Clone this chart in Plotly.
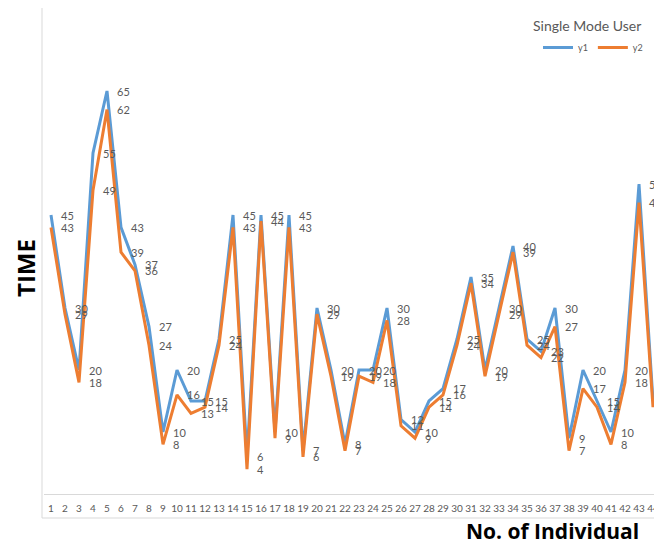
import plotly.graph_objects as go

# Individuals on the horizontal axis and their recorded times for the two series
individuals = list(range(1, 45))
y1 = [45, 30, 20, 55, 65, 43, 37, 27, 10, 20, 15, 15, 25, 45, 6, 45, 10, 45, 7, 30,
      20, 8, 20, 20, 30, 12, 10, 15, 17, 25, 35, 20, 30, 40, 25, 23, 30, 9, 20, 15,
      10, 20, 50, 15]
y2 = [43, 29, 18, 49, 62, 39, 36, 24, 8, 16, 13, 14, 24, 43, 4, 44, 9, 43, 6, 29,
      19, 7, 19, 18, 28, 11, 9, 14, 16, 24, 34, 19, 29, 39, 24, 22, 27, 7, 17, 14,
      8, 18, 47, 14]
series_names = ["y1", "y2"]
series_colors = ["#5B9BD5", "#ED7D31"]

W, H = 654, 544
M_L, M_R, M_T, M_B = 44, 0, 8, 50
plot_w = W - M_L - M_R
plot_h = H - M_T - M_B

label_font = dict(family="Lato, Open Sans, sans-serif", size=11, color="#595959")

fig = go.Figure()
for name, vals, color in zip(series_names, [y1, y2], series_colors):
    fig.add_trace(go.Scatter(
        x=individuals, y=vals, name=name, mode="lines",
        line=dict(color=color, width=3),
        hoverinfo="x+y",
    ))

# value labels to the right of every point
annotations = []
for vals in (y1, y2):
    for xi, v in zip(individuals, vals):
        annotations.append(dict(
            x=xi, y=v, xref="x", yref="y", text=str(v), showarrow=False,
            xanchor="left", yanchor="middle", xshift=8, font=label_font,
        ))

# chart title, axis titles
annotations.append(dict(
    x=(587 - M_L) / plot_w, y=(H - M_B - 25) / plot_h, xref="paper", yref="paper",
    text="Single Mode User", showarrow=False, xanchor="center", yanchor="middle",
    font=dict(family="Lato, Open Sans, sans-serif", size=14, color="#595959"),
))
annotations.append(dict(
    x=(25 - M_L) / plot_w, y=(H - M_B - 268) / plot_h, xref="paper", yref="paper",
    text="<b>TIME</b>", showarrow=False, textangle=-90, xanchor="center", yanchor="middle",
    font=dict(family="Open Sans, sans-serif", size=24, color="#000000"),
))
annotations.append(dict(
    x=(552 - M_L) / plot_w, y=(H - M_B - 531) / plot_h, xref="paper", yref="paper",
    text="<b>No. of Individual</b>", showarrow=False, xanchor="center", yanchor="middle",
    font=dict(family="Open Sans, sans-serif", size=21, color="#000000"),
))

frame = dict(color="#D9D9D9", width=1)
x_left = (42 - M_L) / plot_w
y_low = (H - M_B - 518) / plot_h
shapes = [
    dict(type="line", xref="paper", yref="paper", x0=x_left, x1=x_left, y0=y_low, y1=1, line=frame),
    dict(type="line", xref="paper", yref="paper", x0=x_left, x1=1.01, y0=y_low, y1=y_low, line=frame),
]

fig.update_layout(
    width=W, height=H,
    margin=dict(l=M_L, r=M_R, t=M_T, b=M_B, pad=0),
    paper_bgcolor="white", plot_bgcolor="white",
    showlegend=True,
    legend=dict(
        orientation="h", x=(538 - M_L) / plot_w, y=(H - M_B - 33) / plot_h,
        xanchor="left", yanchor="top", font=dict(family="Lato, sans-serif", size=9, color="#595959"),
        bgcolor="rgba(0,0,0,0)", itemwidth=30, tracegroupgap=0,
    ),
    xaxis=dict(
        range=[0.5, 0.5 + plot_w / 14.0], tickmode="array", tickvals=individuals,
        ticktext=[str(i) for i in individuals], ticks="", showgrid=False, zeroline=False,
        showline=True, linecolor="#D9D9D9", linewidth=1, ticklabeloverflow="allow",
        ticklabelstandoff=5, automargin=False,
        tickfont=dict(family="Lato, Open Sans, sans-serif", size=10, color="#595959"),
    ),
    yaxis=dict(
        range=[0, plot_h / 6.2], showticklabels=False, ticks="", showgrid=False,
        zeroline=False, showline=False, automargin=False,
    ),
    annotations=annotations,
    shapes=shapes,
)

fig.write_html("out.html")
